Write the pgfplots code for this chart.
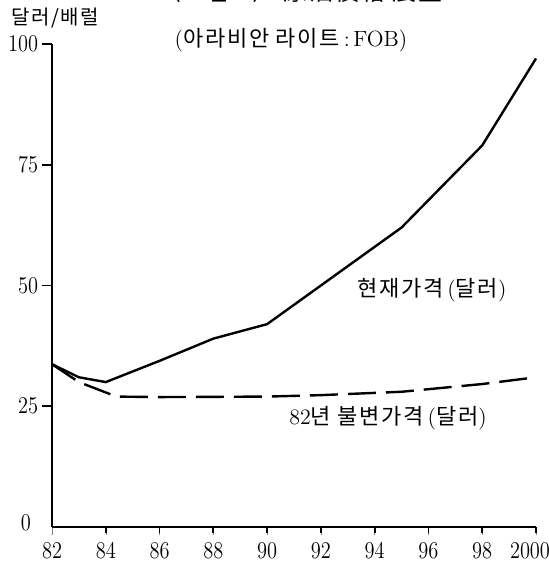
\documentclass[border=0pt]{standalone}
\usepackage{graphicx}
\usepackage{pgfplots}
\pgfplotsset{compat=1.18}
\usepackage{fontspec}
\newfontfamily\kr[LetterSpace=8]{Noto Sans CJK KR}
\newcommand{\nr}[1]{\scalebox{0.85}[1]{#1}}

% current price and constant (1982) price, dollars per barrel
\pgfplotstableread{
year price
82 33.7
83 31.0
84 30.0
86 34.4
88 39.0
90 42.0
95 62.0
98 79.0
100 97.0
}\current
\pgfplotstableread{
year price
82 33.7
83 30.0
84.4 27.0
86 26.9
90 27.0
92 27.3
95 28.0
98 29.6
100 31.0
}\constant

\begin{document}
\begin{tikzpicture}
\useasboundingbox (-26pt,-18.5pt) rectangle (248.5pt,263.5pt);
\begin{axis}[
  at={(0pt,0pt)}, anchor=south west,
  scale only axis, width=242pt, height=241.5pt,
  xmin=82, xmax=100, ymin=0, ymax=100,
  axis lines=left,
  axis line style={-},
  line width=1.1pt,
  tick align=outside,
  major tick length=4pt,
  clip=false,
  xtick={82,84,...,100},
  xticklabels={\nr{82},\nr{84},\nr{86},\nr{88},\nr{90},\nr{92},\nr{94},\nr{96},\nr{98},{\hspace*{-6pt}\nr{2000}}},
  ytick={25,50,75,100},
  yticklabels={\nr{25},\nr{50},\nr{75},\nr{100}},
  xticklabel style={font=\fontsize{12}{12}\selectfont},
  yticklabel style={font=\fontsize{12}{12}\selectfont, xshift=1pt},
]
\addplot[black, line width=1.2pt] table[x=year,y=price] {\current};
\addplot[black, line width=1.2pt, dash pattern=on 14pt off 5pt] table[x=year,y=price] {\constant};
% tick marks
\pgfplotsinvokeforeach{25,50,75,100}{\draw[black, line width=0.9pt] (axis cs:82,#1) -- ++(-5pt,0pt);}
\pgfplotsinvokeforeach{84,86,88,90,92,94,96,98,100}{\draw[black, line width=0.9pt] (axis cs:#1,0) -- ++(0pt,-3pt);}
\end{axis}
\node[anchor=east, font=\fontsize{12}{12}\selectfont] at (-7pt,2pt) {\nr{0}};
\node[font=\fontsize{12}{12}\selectfont] at (124pt,268pt) {{\kr 〈그림 1〉 原油價格 展望}};
\node[font=\fontsize{11}{12}\selectfont] at (119.5pt,243.5pt) {({\kr 아라비안 라이트}\,:\,FOB)};
\node[anchor=west, font=\fontsize{10}{12}\selectfont] at (-24pt,254.5pt) {{\kr 달러/배럴}};
\node[font=\fontsize{11}{12}\selectfont] at (190pt,118.5pt) {{\kr 현재가격}\,({\kr 달러})};
\node[font=\fontsize{11}{12}\selectfont] at (168pt,54.5pt) {82{\kr 년 불변가격}\,({\kr 달러})};
\end{tikzpicture}
\end{document}
